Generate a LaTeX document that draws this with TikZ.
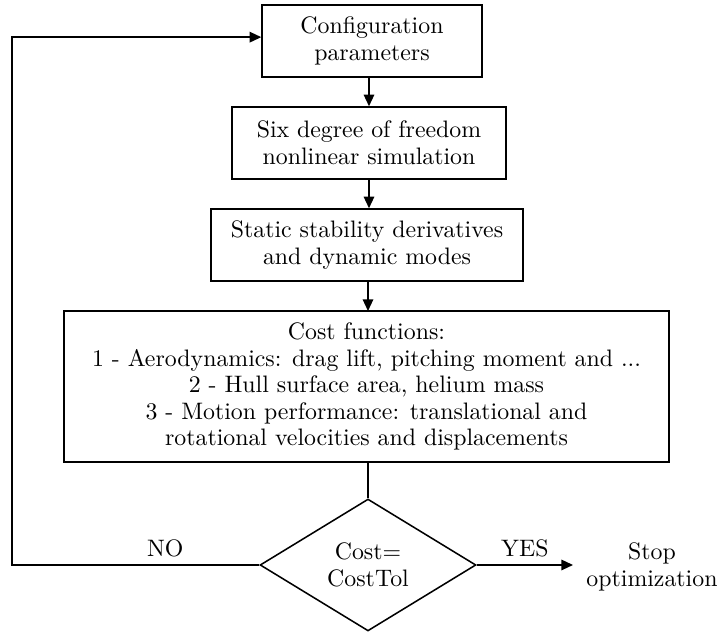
\documentclass[tikz,border=0pt]{standalone}
\usetikzlibrary{shapes.geometric,arrows.meta}
\begin{document}
\begin{tikzpicture}[x=0.016cm, y=-0.016cm, line width=0.7pt,
    every node/.style={font=\fontsize{10.85}{12.1}\selectfont},
    block/.style={draw, align=center, inner sep=2pt},
    arr/.style={-{Triangle[length=5.3pt, width=4.8pt]}}]
      \useasboundingbox (0, 0) rectangle (718, 634);
      % nodes
      \node[block, minimum width=3.52cm, minimum height=1.152cm] (cfg) at (372, 41) {Configuration\\parameters};
      \node[block, minimum width=4.384cm, minimum height=1.152cm] (sim) at (369, 143) {Six degree of freedom\\nonlinear simulation};
      \node[block, minimum width=4.992cm, minimum height=1.152cm] (stab) at (367, 245) {Static stability derivatives\\and dynamic modes};
      \node[block, minimum width=9.68cm, minimum height=2.416cm] (cost) at (366.5, 386.5) {Cost functions:\\1 - Aerodynamics: drag lift, pitching moment and ...\\2 - Hull surface area, helium mass\\3 - Motion performance: translational and\\rotational velocities and displacements};
      \node[draw, diamond, minimum width=3.456cm, minimum height=2.112cm, inner sep=0pt, align=center] (tol) at (368, 565) {Cost=\\CostTol};
      \node[align=center] (stop) at (652, 567) {Stop\\optimization};
      \coordinate (loop) at (12, 565);
      % lines
      \draw[arr] (cfg.south -| sim.north) -- (sim.north);
      \draw[arr] (sim.south) -- (sim.south |- stab.north);
      \draw[arr] (stab.south -| 368, 0) -- (368, 311);
      \draw (368, 462) -- (tol.north);
      \draw[arr] (tol.east) -- node[above] {YES} (573, 565);
      \draw[arr] (tol.west) -- node[above, pos=.38] {NO} (loop) |- ([yshift=1.75pt]cfg.west);
    \end{tikzpicture}
\end{document}
